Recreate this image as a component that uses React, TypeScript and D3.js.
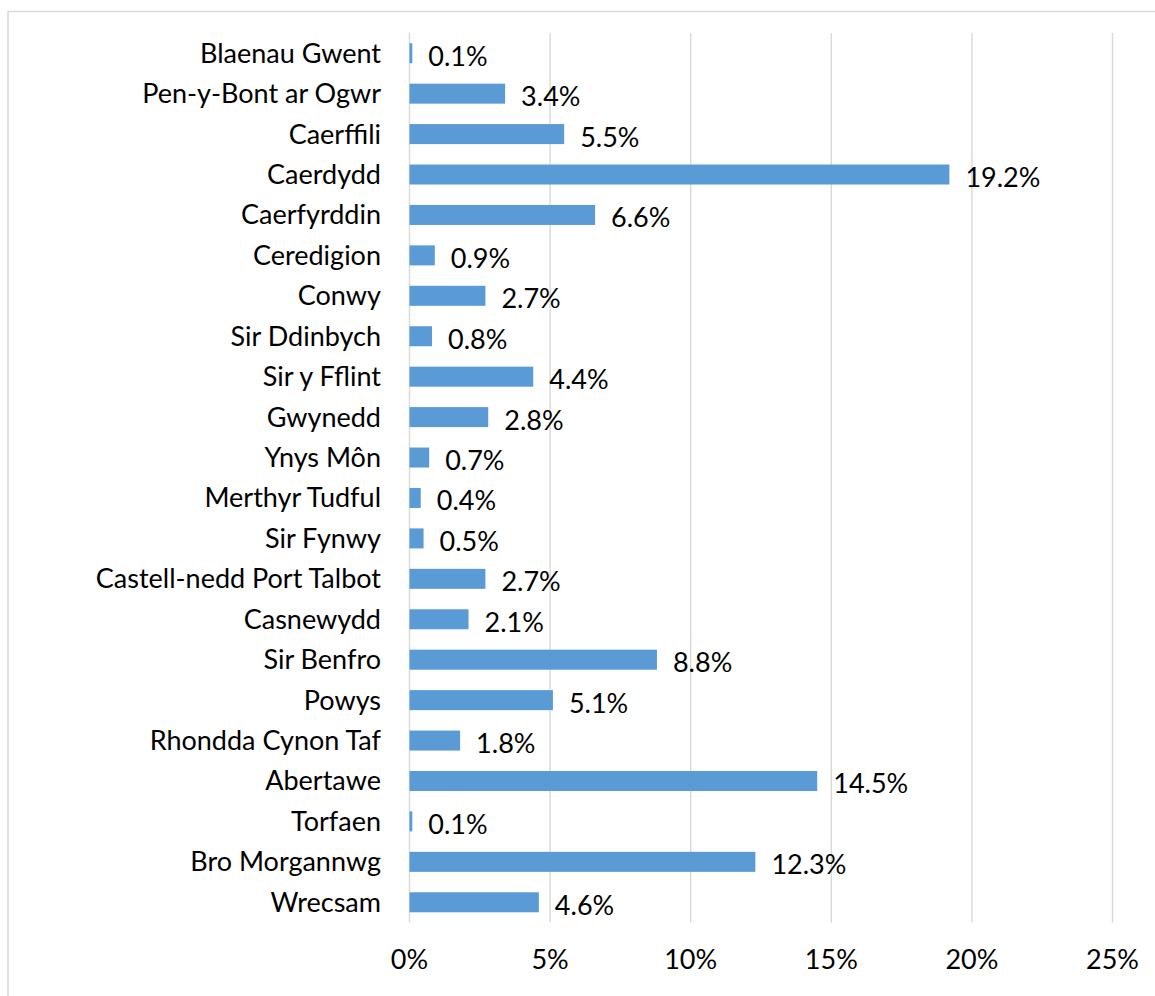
import React from "react";
import * as d3 from "d3";

const categories = [
  "Blaenau Gwent",
  "Pen-y-Bont ar Ogwr",
  "Caerffili",
  "Caerdydd",
  "Caerfyrddin",
  "Ceredigion",
  "Conwy",
  "Sir Ddinbych",
  "Sir y Fflint",
  "Gwynedd",
  "Ynys Môn",
  "Merthyr Tudful",
  "Sir Fynwy",
  "Castell-nedd Port Talbot",
  "Casnewydd",
  "Sir Benfro",
  "Powys",
  "Rhondda Cynon Taf",
  "Abertawe",
  "Torfaen",
  "Bro Morgannwg",
  "Wrecsam",
];

const values = [0.1, 3.4, 5.5, 19.2, 6.6, 0.9, 2.7, 0.8, 4.4, 2.8, 0.7, 0.4, 0.5, 2.7, 2.1, 8.8, 5.1, 1.8, 14.5, 0.1, 12.3, 4.6];

const xTicks = [0, 5, 10, 15, 20, 25];

const W = 1155;
const H = 996;
const FONT = "Lato, 'Open Sans', sans-serif";
const FS = 27;

export default function App() {
  const x = d3.scaleLinear().domain([0, 25]).range([409.5, 1112.5]);
  const y = d3
    .scaleBand<string>()
    .domain(categories)
    .range([33, 922.5])
    .paddingInner(0.505)
    .paddingOuter(0.2525);
  const bw = y.bandwidth();

  return (
    <div style={{ position: "absolute", left: 0, top: 0 }}>
      <svg width={W} height={H} style={{ display: "block", background: "#fff" }}>
        <rect x={8} y={11.5} width={W} height={H} fill="#fff" stroke="#D9D9D9" strokeWidth={1.5} />
        {xTicks.map((t) => (
          <line key={t} x1={x(t)} x2={x(t)} y1={33} y2={922.5} stroke="#D9D9D9" strokeWidth={1.4} />
        ))}
        {categories.map((c, i) => (
          <g key={c}>
            <rect x={x(0)} y={y(c)!} width={x(values[i]) - x(0)} height={bw} fill="#5B9BD5" />
            <text
              x={381}
              y={y(c)! + bw / 2}
              dy="0.35em"
              textAnchor="end"
              fontFamily={FONT}
              fontSize={FS}
              fill="#000"
            >
              {c}
            </text>
            <text
              x={x(values[i]) + 16}
              y={y(c)! + bw / 2 + 3}
              dy="0.35em"
              textAnchor="start"
              fontFamily={FONT}
              fontSize={FS}
              fill="#000"
            >
              {values[i].toFixed(1) + "%"}
            </text>
          </g>
        ))}
        {xTicks.map((t) => (
          <text
            key={"l" + t}
            x={x(t)}
            y={960}
            dy="0.35em"
            textAnchor="middle"
            fontFamily={FONT}
            fontSize={FS}
            fill="#000"
          >
            {t + "%"}
          </text>
        ))}
      </svg>
    </div>
  );
}
